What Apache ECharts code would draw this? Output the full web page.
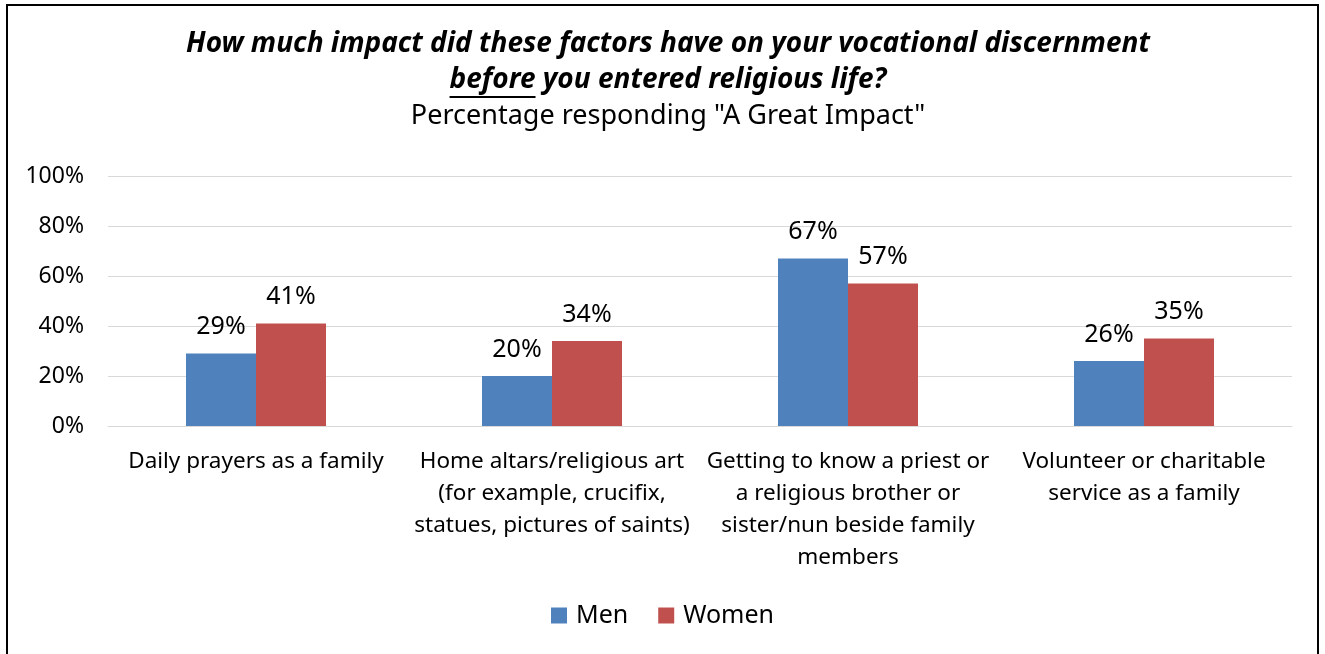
<!DOCTYPE html>
<html><head><meta charset="utf-8">
<script src="https://cdn.jsdelivr.net/npm/echarts@6/dist/echarts.min.js"></script>
<style>html,body{margin:0;padding:0;background:#fff}#c{width:1325px;height:654px}</style>
</head><body><div id="c"></div>
<script>
const categories = [
  'Daily prayers as a family',
  'Home altars/religious art\n(for example, crucifix,\nstatues, pictures of saints)',
  'Getting to know a priest or\na religious brother or\nsister/nun beside family\nmembers',
  'Volunteer or charitable\nservice as a family'
];
const men = [29, 20, 67, 26];
const women = [41, 34, 57, 35];
const yTicks = [0, 20, 40, 60, 80, 100];
const titleLine1 = 'How much impact did these factors have on your vocational discernment';
const titleUnder = 'before';
const titleRest = ' you entered religious life?';
const subtitle = 'Percentage responding "A Great Impact"';

const FONT = 'Noto Sans';
const TSIZE = 28;
const TFONT = 'italic bold ' + TSIZE + 'px "Noto Sans"';
const cx = 668;
const ctx = document.createElement('canvas').getContext('2d');
ctx.font = TFONT;
const wU = ctx.measureText(titleUnder).width;
const wR = ctx.measureText(titleRest).width;
const line2Left = cx - (wU + wR) / 2;

const titleStyle = { fontFamily: FONT, fontSize: TSIZE, fontWeight: 'bold', fontStyle: 'italic', fill: '#000' };
const chart = echarts.init(document.getElementById('c'));
chart.setOption({
  animation: false,
  textStyle: { fontFamily: FONT, color: '#000' },
  graphic: [
    { type: 'rect', shape: { x: 7, y: 5, width: 1311, height: 660 }, style: { fill: 'none', stroke: '#000', lineWidth: 2 }, silent: true },
    { type: 'text', x: cx, y: 44, style: Object.assign({ text: titleLine1, align: 'center', verticalAlign: 'middle' }, titleStyle) },
    { type: 'text', x: line2Left, y: 80, style: Object.assign({ text: titleUnder, align: 'left', verticalAlign: 'middle' }, titleStyle) },
    { type: 'text', x: line2Left + wU, y: 80, style: Object.assign({ text: titleRest, align: 'left', verticalAlign: 'middle' }, titleStyle) },
    { type: 'line', shape: { x1: line2Left, y1: 97, x2: line2Left + wU, y2: 97 }, style: { stroke: '#000', lineWidth: 2 } },
    { type: 'text', x: cx, y: 116, style: { text: subtitle, align: 'center', verticalAlign: 'middle', fontFamily: FONT, fontSize: 27, fill: '#000' } }
  ],
  legend: {
    top: 598, left: 'center', itemWidth: 16, itemHeight: 16, itemGap: 30,
    icon: 'rect',
    textStyle: { fontFamily: FONT, fontSize: 25, color: '#000', padding: [0, 0, 0, 4] },
    data: ['Men', 'Women']
  },
  grid: { left: 108, right: 33, top: 176, bottom: 228, containLabel: false },
  xAxis: {
    type: 'category', data: categories,
    axisTick: { show: false },
    axisLine: { lineStyle: { color: '#d9d9d9', width: 1 } },
    axisLabel: { fontFamily: FONT, fontSize: 22.5, color: '#000', lineHeight: 32, margin: 20, interval: 0 }
  },
  yAxis: {
    type: 'value', min: 0, max: 100, interval: 20,
    axisLine: { show: false }, axisTick: { show: false },
    splitLine: { lineStyle: { color: '#d9d9d9', width: 1 } },
    axisLabel: { fontFamily: FONT, fontSize: 23, color: '#000', margin: 24, formatter: v => yTicks.includes(v) ? v + '%' : '' }
  },
  series: [
    { name: 'Men', type: 'bar', data: men, barWidth: 70, barGap: '0%',
      itemStyle: { color: '#4F81BD' },
      label: { show: true, position: 'top', distance: 14, formatter: '{c}%', fontFamily: FONT, fontSize: 25, color: '#000' } },
    { name: 'Women', type: 'bar', data: women, barWidth: 70, barGap: '0%',
      itemStyle: { color: '#C0504D' },
      label: { show: true, position: 'top', distance: 14, formatter: '{c}%', fontFamily: FONT, fontSize: 25, color: '#000' } }
  ]
});
</script></body></html>
